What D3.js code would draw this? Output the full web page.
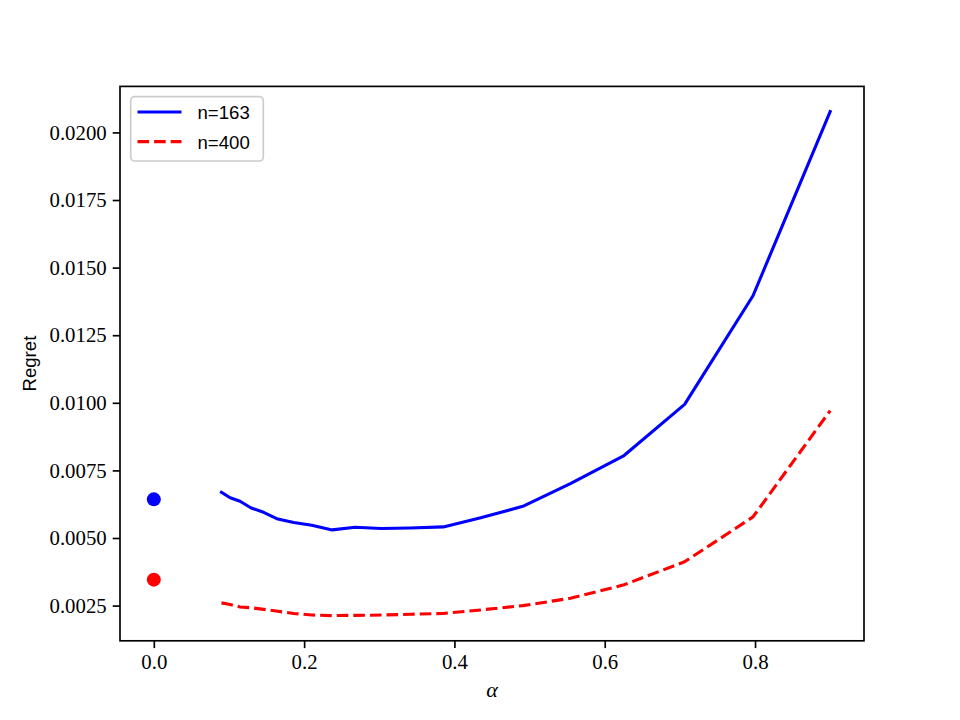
<!DOCTYPE html>
<html>
<head>
<meta charset="utf-8">
<script src="https://cdn.jsdelivr.net/npm/d3@7"></script>
<style>
  html, body { margin: 0; padding: 0; background: #fff; }
  svg { display: block; }
</style>
</head>
<body>
<svg id="chart" width="960" height="720"></svg>
<script>
// ---- data ----
const alphas = [0.0900, 0.1016, 0.1147, 0.1295, 0.1461, 0.1650, 0.1862, 0.2102, 0.2373, 0.2679,
                0.3024, 0.3413, 0.3853, 0.4350, 0.4910, 0.5543, 0.6257, 0.7063, 0.7973, 0.9000];
const regret163 = [0.00669, 0.00649, 0.00636, 0.00611, 0.00595, 0.00570, 0.00557, 0.00547, 0.00530, 0.00540,
                   0.00535, 0.00537, 0.00541, 0.00575, 0.00617, 0.00701, 0.00805, 0.00994, 0.01396, 0.02077];
const regret400 = [0.00260, 0.00254, 0.00245, 0.00242, 0.00236, 0.00229, 0.00221, 0.00215, 0.00213, 0.00214,
                   0.00215, 0.00218, 0.00221, 0.00234, 0.00250, 0.00277, 0.00327, 0.00412, 0.00578, 0.00971];
const pointAlpha = [0.0, 0.0];
const pointRegret = [0.00643, 0.00346];
const seriesLabels = ["n=163", "n=400"];
const seriesColors = ["#0000ff", "#ff0000"];
const xTicks = [0.0, 0.2, 0.4, 0.6, 0.8];
const yTicks = [0.0025, 0.0050, 0.0075, 0.0100, 0.0125, 0.0150, 0.0175, 0.0200];

// ---- layout ----
const W = 960, H = 720;
const L = 120, R = 864, T = 86.4, B = 640.8;
const svg = d3.select("#chart");

function padDomain(vals) {
  const lo = d3.min(vals), hi = d3.max(vals);
  const m = (hi - lo) * 0.05;
  return [lo - m, hi + m];
}
const x = d3.scaleLinear().domain(padDomain(alphas.concat(pointAlpha))).range([L, R]);
const y = d3.scaleLinear().domain(padDomain(regret163.concat(regret400, pointRegret))).range([B, T]);

const serif = "'Liberation Serif', 'Times New Roman', serif";
const sans = "'Liberation Sans', Arial, sans-serif";

// clip
svg.append("defs").append("clipPath").attr("id", "clip")
  .append("rect").attr("x", L).attr("y", T).attr("width", R - L).attr("height", B - T);

const plot = svg.append("g").attr("clip-path", "url(#clip)");

const line = d3.line().x(d => x(d[0])).y(d => y(d[1]));

plot.append("path")
  .datum(alphas.map((a, i) => [a, regret163[i]]))
  .attr("d", line).attr("fill", "none")
  .attr("stroke", seriesColors[0]).attr("stroke-width", 3.1)
  .attr("stroke-linejoin", "round").attr("stroke-linecap", "square");

plot.append("path")
  .datum(alphas.map((a, i) => [a, regret400[i]]))
  .attr("d", line).attr("fill", "none")
  .attr("stroke", seriesColors[1]).attr("stroke-width", 3.1)
  .attr("stroke-dasharray", "11.6,5").attr("stroke-linejoin", "round");

plot.selectAll("circle.pt").data(pointAlpha.map((a, i) => [a, pointRegret[i], seriesColors[i]]))
  .enter().append("circle").attr("class", "pt")
  .attr("cx", d => x(d[0])).attr("cy", d => y(d[1])).attr("r", 7)
  .attr("fill", d => d[2]);

// axes
const xAxis = d3.axisBottom(x).tickValues(xTicks).tickFormat(d3.format(".1f"))
  .tickSizeInner(7.3).tickSizeOuter(0).tickPadding(6);
const yAxis = d3.axisLeft(y).tickValues(yTicks).tickFormat(d3.format(".4f"))
  .tickSizeInner(7.3).tickSizeOuter(0).tickPadding(6);

const gx = svg.append("g").attr("transform", `translate(0,${B})`).call(xAxis);
const gy = svg.append("g").attr("transform", `translate(${L},0)`).call(yAxis);
[gx, gy].forEach(g => {
  g.select(".domain").remove();
  g.selectAll(".tick line").attr("stroke", "#000").attr("stroke-width", 1.67);
  g.selectAll(".tick text").attr("fill", "#000")
    .style("font-family", serif).style("font-size", "20.8px");
});

// frame
svg.append("rect").attr("x", L).attr("y", T).attr("width", R - L).attr("height", B - T)
  .attr("fill", "none").attr("stroke", "#000").attr("stroke-width", 1.67);

// axis labels
svg.append("text").attr("x", (L + R) / 2).attr("y", 697)
  .attr("text-anchor", "middle")
  .style("font-family", serif).style("font-style", "italic").style("font-size", "22px")
  .text("α");

svg.append("text")
  .attr("transform", `translate(36,${(T + B) / 2}) rotate(-90)`)
  .attr("text-anchor", "middle")
  .style("font-family", sans).style("font-size", "18.6px")
  .text("Regret");

// legend
const leg = svg.append("g");
leg.append("rect").attr("x", 130.7).attr("y", 96.7).attr("width", 132.6).attr("height", 64.3)
  .attr("rx", 4).attr("fill", "#fff").attr("fill-opacity", 0.8)
  .attr("stroke", "#cccccc").attr("stroke-width", 1.67);
seriesLabels.forEach((lab, i) => {
  const yy = 112 + i * 29.6;
  const ln = leg.append("line").attr("x1", 137.5).attr("x2", 181.5).attr("y1", yy).attr("y2", yy)
    .attr("stroke", seriesColors[i]).attr("stroke-width", 3.1);
  if (i === 1) ln.attr("stroke-dasharray", "11.6,5");
  leg.append("text").attr("x", 197.5).attr("y", yy + 7)
    .style("font-family", sans).style("font-size", "18.6px")
    .text(lab);
});
</script>
</body>
</html>
